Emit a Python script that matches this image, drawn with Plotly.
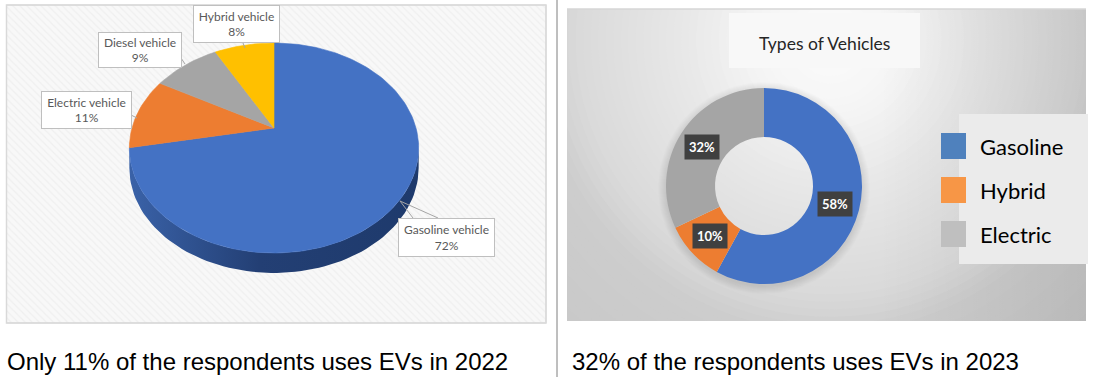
import numpy as np
import plotly.graph_objects as go

# ---------------- data ----------------
cats_2022 = ["Gasoline vehicle", "Electric vehicle", "Diesel vehicle", "Hybrid vehicle"]
vals_2022 = [72, 11, 9, 8]
colors_2022 = ["#4472C4", "#ED7D31", "#A5A5A5", "#FFC000"]
side_colors_2022 = ["#233F74", "#9A4F1C", "#6B6B6B", "#A67C00"]

cats_2023 = ["Gasoline", "Hybrid", "Electric"]
vals_2023 = [58, 10, 32]
colors_2023 = ["#4472C4", "#ED7D31", "#A5A5A5"]
legend_colors_2023 = ["#4F81BD", "#F79646", "#BFBFBF"]

title_2023 = "Types of Vehicles"
captions = ["Only 11% of the respondents uses EVs in 2022",
            "32% of the respondents uses EVs in 2023"]

# ---------------- layout constants (pixels) ----------------
W, H = 1093, 377
CX, CY = 274, 128          # apex of the 3D pie
A_Y, C_P, A_X = 76.8, -0.1905, 142.0
DEPTH = 20

RX0, RX1, RY0, RY1 = 567, 1086, 9, 321   # right frame
GCX, GCY, GR = 830, 40, 300               # background glow centre / radius

# label boxes for the 2022 pie: (center x, center y, width, height)
label_boxes_2022 = [(446.5, 237.5, 97, 39), (86, 109.5, 91, 38),
                    (140, 50, 84, 36), (236.5, 24, 87, 38)]
leaders_2022 = [[(400, 201, 413, 218), (400, 201, 438, 218)],
                [(131, 115, 137, 118)],
                [(181, 58, 185, 64)],
                [(243, 43, 245, 48)]]

DON_CX, DON_CY, DON_R, DON_HOLE = 764, 186, 98, 0.5


def proj(theta):
    v = -np.cos(theta)
    den = C_P * v + 1
    return CX + A_X * np.sin(theta) / den, (A_Y * v + CY) / den


fig = go.Figure()

# left frame hatched background
fig.add_trace(go.Scatter(
    x=[6.5, 546, 546, 6.5, 6.5], y=[5, 5, 323, 323, 5], mode="lines",
    fill="toself", line=dict(width=1, color="#D9D9D9"), fillcolor="#F6F6F6",
    fillpattern=dict(shape="\\", bgcolor="#F8F8F8", fgcolor="#E6E6E6", size=5, solidity=0.25),
    hoverinfo="skip", showlegend=False, xaxis="x", yaxis="y"))

# 3D pie: side bands
fr = np.array(vals_2022, float) / sum(vals_2022)
cum = np.concatenate([[0], np.cumsum(fr)]) * 2 * np.pi
th_f0 = np.arccos(C_P)
th_f1 = 2 * np.pi - th_f0
for i in range(len(vals_2022)):
    a, b = max(cum[i], th_f0), min(cum[i + 1], th_f1)
    if b <= a:
        continue
    t = np.linspace(a, b, 80)
    px, py = proj(t)
    xs = np.concatenate([px, px[::-1], px[:1]])
    ys = np.concatenate([py, py[::-1] + DEPTH, py[:1]])
    fig.add_trace(go.Scatter(
        x=xs, y=ys, mode="lines", fill="toself", line=dict(width=0, color=side_colors_2022[i]),
        fillgradient=dict(type="horizontal",
                          colorscale=[[0, "#3A62A8" if i == 0 else side_colors_2022[i]],
                                      [0.45, side_colors_2022[i]],
                                      [1, "#1E3A6C" if i == 0 else side_colors_2022[i]]]),
        hoverinfo="skip", showlegend=False, xaxis="x", yaxis="y"))

# 3D pie: top face
for i in range(len(vals_2022)):
    n = max(int(200 * fr[i]), 8)
    t = np.linspace(cum[i], cum[i + 1], n)
    px, py = proj(t)
    xs = np.concatenate([[CX], px, [CX]])
    ys = np.concatenate([[CY], py, [CY]])
    fig.add_trace(go.Scatter(
        x=xs, y=ys, mode="lines", fill="toself", fillcolor=colors_2022[i],
        line=dict(width=0.6, color=colors_2022[i]), name=cats_2022[i],
        hoverinfo="name", showlegend=False, xaxis="x", yaxis="y"))

# right frame background: stepped radial glow, light near the title
stops_d = [0.0, 0.25, 0.5, 0.85, 1.0, 1.5]
stops_g = [252, 245, 232, 218, 205, 198]
phi = np.linspace(0, 2 * np.pi, 90)
for d in np.linspace(1.5, 0.02, 60):
    g = int(round(np.interp(d, stops_d, stops_g)))
    fig.add_trace(go.Scatter(
        x=GCX + GR * d * np.cos(phi), y=GCY + GR * d * np.sin(phi), mode="lines",
        fill="toself", fillcolor=f"rgb({g},{g},{g})", line=dict(width=0),
        hoverinfo="skip", showlegend=False, xaxis="x2", yaxis="y2"))
# slight darkening towards the right edge
fig.add_trace(go.Scatter(
    x=[RX0, RX1, RX1, RX0, RX0], y=[RY0, RY0, RY1, RY1, RY0], mode="lines",
    fill="toself", line=dict(width=0),
    fillgradient=dict(type="horizontal",
                      colorscale=[[0, "rgba(0,0,0,0)"], [0.6, "rgba(0,0,0,0)"],
                                  [1, "rgba(0,0,0,0.08)"]]),
    hoverinfo="skip", showlegend=False, xaxis="x2", yaxis="y2"))
# soft shadow ring around the donut (annulus, hole left clear)
r_in = DON_R - 3
for k in range(8):
    rr = DON_R + 8 - k
    xs = np.concatenate([DON_CX + rr * np.cos(phi), DON_CX + r_in * np.cos(phi[::-1])])
    ys = np.concatenate([DON_CY + 2 + rr * np.sin(phi), DON_CY + 2 + r_in * np.sin(phi[::-1])])
    fig.add_trace(go.Scatter(
        x=xs, y=ys, mode="lines", fill="toself", fillcolor="rgba(0,0,0,0.012)",
        line=dict(width=0), hoverinfo="skip", showlegend=False, xaxis="x2", yaxis="y2"))

# donut
fig.add_trace(go.Pie(
    labels=cats_2023, values=vals_2023, hole=DON_HOLE, sort=False,
    direction="clockwise", rotation=0, textinfo="none", showlegend=False,
    marker=dict(colors=colors_2023, line=dict(width=0)),
    domain=dict(x=[(DON_CX - DON_R) / W, (DON_CX + DON_R) / W],
                y=[1 - (DON_CY + DON_R) / H, 1 - (DON_CY - DON_R) / H])))

shapes = []
annotations = []

# left frame outline
shapes.append(dict(type="rect", xref="x", yref="y", x0=6.5, x1=546, y0=5, y1=323,
                   line=dict(color="#D9D9D9", width=1.5), layer="above"))
# right frame top line
shapes.append(dict(type="line", xref="x", yref="y", x0=RX0, x1=RX1, y0=RY0, y1=RY0,
                   line=dict(color="#D6D6D6", width=1.5), layer="above"))
# divider
shapes.append(dict(type="line", xref="x", yref="y", x0=557, x1=557, y0=0, y1=377,
                   line=dict(color="#7F7F7F", width=1), layer="above"))

# 2022 labels
for i, (c, v) in enumerate(zip(cats_2022, vals_2022)):
    bx, by, bw, bh = label_boxes_2022[i]
    for (x0, y0, x1, y1) in leaders_2022[i]:
        shapes.append(dict(type="line", xref="x", yref="y", x0=x0, y0=y0, x1=x1, y1=y1,
                           line=dict(color="#A6A6A6", width=1), layer="above"))
    annotations.append(dict(
        x=bx, y=by, xref="x", yref="y", text=f"{c}<br>{v}%", showarrow=False,
        font=dict(family="Lato", size=12, color="#595959"),
        bgcolor="#FFFFFF", bordercolor="#BFBFBF", borderwidth=1, borderpad=0,
        width=bw - 2, height=bh - 2, align="center", xanchor="center", yanchor="middle"))

# title box + title
shapes.append(dict(type="rect", xref="x", yref="y", x0=729, x1=920, y0=13, y1=68,
                   fillcolor="#F8F8F8", line=dict(width=0), layer="above"))
annotations.append(dict(x=824.5, y=43, xref="x", yref="y", text=title_2023, showarrow=False,
                        font=dict(family="Lato", size=17.5, color="#262626"),
                        xanchor="center", yanchor="middle"))

# donut labels
fr23 = np.array(vals_2023, float) / sum(vals_2023)
cum23 = np.concatenate([[0], np.cumsum(fr23)]) * 2 * np.pi
r_mid = DON_R * (1 + DON_HOLE) / 2
for i, v in enumerate(vals_2023):
    mid = (cum23[i] + cum23[i + 1]) / 2
    annotations.append(dict(
        x=DON_CX + r_mid * np.sin(mid), y=DON_CY - r_mid * np.cos(mid), xref="x", yref="y",
        text=f"<b>{v}%</b>", showarrow=False, font=dict(family="Lato", size=13, color="#FFFFFF"),
        bgcolor="#404040", borderpad=4, xanchor="center", yanchor="middle"))

# legend (2023)
shapes.append(dict(type="rect", xref="x", yref="y", x0=959, x1=1088, y0=114, y1=264,
                   fillcolor="#EBEBEB", line=dict(width=0), layer="above"))
for i, c in enumerate(cats_2023):
    yc = 146 + 44 * i
    shapes.append(dict(type="rect", xref="x", yref="y", x0=941, x1=966, y0=yc - 13, y1=yc + 13,
                       fillcolor=legend_colors_2023[i], line=dict(width=0), layer="above"))
    annotations.append(dict(x=978, y=yc, xref="x", yref="y", text=c, showarrow=False,
                            font=dict(family="Lato", size=22, color="#000000"),
                            xanchor="left", yanchor="middle"))

# captions
for x0, cap in zip([5, 570], captions):
    annotations.append(dict(x=x0, y=361, xref="x", yref="y", text=cap, showarrow=False,
                            font=dict(family="Liberation Sans", size=24, color="#000000"),
                            xanchor="left", yanchor="middle"))

ax_common = dict(visible=False, showgrid=False, zeroline=False, fixedrange=True)
fig.update_layout(
    width=W, height=H, autosize=False,
    margin=dict(l=0, r=0, t=0, b=0, pad=0),
    paper_bgcolor="#FFFFFF", plot_bgcolor="rgba(0,0,0,0)",
    xaxis=dict(range=[0, W], domain=[0, 1], **ax_common),
    yaxis=dict(range=[H, 0], domain=[0, 1], **ax_common),
    xaxis2=dict(range=[RX0, RX1], domain=[RX0 / W, RX1 / W], anchor="y2", **ax_common),
    yaxis2=dict(range=[RY1, RY0], domain=[1 - RY1 / H, 1 - RY0 / H], anchor="x2", **ax_common),
    shapes=shapes, annotations=annotations, showlegend=False,
)

fig.write_html("out.html", config={"displayModeBar": False},
               post_script="document.body.style.margin='0';")
